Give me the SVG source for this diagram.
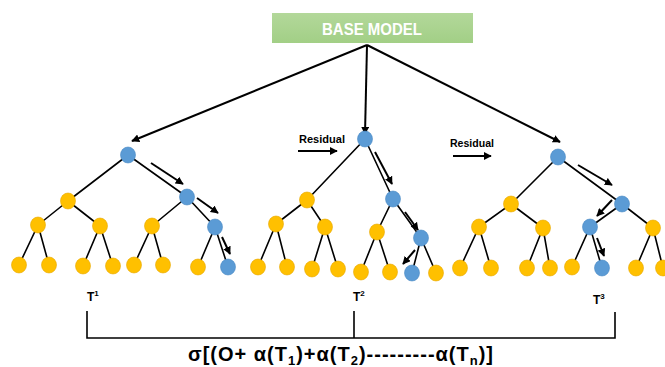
<svg xmlns="http://www.w3.org/2000/svg" width="665" height="367" viewBox="0 0 665 367">
<defs>
<marker id="ah" viewBox="0 0 10 10" refX="9" refY="5" markerWidth="4" markerHeight="4" orient="auto" markerUnits="strokeWidth">
<path d="M0,0 L10,5 L0,10 z" fill="#000"/>
</marker>
<linearGradient id="g" x1="0" y1="0" x2="0" y2="1">
<stop offset="0" stop-color="#b3d89a"/>
<stop offset="1" stop-color="#a2cf86"/>
</linearGradient>
</defs>
<style>
.e{stroke:#000;stroke-width:1.6;fill:none}
.a{stroke:#000;stroke-width:2;fill:none;marker-end:url(#ah)}
.y{fill:#FFC000;stroke:#e8a800;stroke-width:0.6}
.b{fill:#5B9BD5;stroke:#4a89c4;stroke-width:0.6}
.t{font-family:"Liberation Sans",Arial,sans-serif;font-weight:bold;fill:#000}
</style>
<rect width="665" height="367" fill="#fff"/>
<g id="base">
<rect x="272" y="13" width="201" height="30" fill="url(#g)"/>
<text x="372" y="35" class="t" font-size="17" style="fill:#fff" text-anchor="middle" textLength="100" lengthAdjust="spacingAndGlyphs">BASE MODEL</text>
</g>
<g id="connectors">
<line class="a" x1="367" y1="45" x2="132" y2="141"/>
<line class="a" x1="367" y1="45" x2="365" y2="134"/>
<line class="a" x1="367" y1="45" x2="560" y2="142"/>
<path class="e" d="M128,155L68,201M128,155L187,197M68,201L38,225M68,201L100,226M187,197L152,226M187,197L215,227M38,225L19,265M38,225L49,265M100,226L83,266M100,226L113,266M152,226L134,265M152,226L163,265M215,227L198,267M215,227L228,267"/>
<path class="e" d="M365,139L307,200M365,139L393,199M307,200L276,224M307,200L325,227M393,199L377,232M393,199L421,238M276,224L258,267M276,224L287,267M325,227L312,269M325,227L338,269M377,232L361,272M377,232L390,272M421,238L412,273M421,238L436,273"/>
<path class="e" d="M558,157L511,204M558,157L622,204M511,204L479,227M511,204L543,228M622,204L590,227M622,204L653,228M479,227L460,268M479,227L491,268M543,228L527,268M543,228L550,268M590,227L572,267M590,227L602,268M653,228L636,268M653,228L663,268"/>
<line class="a" x1="151" y1="163" x2="183" y2="184"/>
<line class="a" x1="197" y1="198" x2="218" y2="213"/>
<line class="a" x1="222" y1="237" x2="230" y2="254"/>
<line class="a" x1="375" y1="152" x2="392" y2="184"/>
<line class="a" x1="405" y1="212" x2="418" y2="230"/>
<line class="a" x1="415" y1="250" x2="403" y2="264"/>
<line class="a" x1="578" y1="165" x2="612" y2="185"/>
<line class="a" x1="612" y1="200" x2="597" y2="216"/>
<line class="a" x1="597" y1="238" x2="604" y2="256"/>
<line class="a" x1="298" y1="151" x2="337" y2="151"/>
<line class="a" x1="453" y1="156" x2="491" y2="156"/>
<path class="e" d="M87,311V338H615V312M354,311V338"/>
</g>
<g id="tree1">
<ellipse class="b" cx="128" cy="155" rx="7.5" ry="8"/>
<ellipse class="y" cx="68" cy="201" rx="7.5" ry="8"/>
<ellipse class="b" cx="187" cy="197" rx="7.5" ry="8"/>
<ellipse class="y" cx="38" cy="225" rx="7.5" ry="8"/>
<ellipse class="y" cx="100" cy="226" rx="7.5" ry="8"/>
<ellipse class="y" cx="152" cy="226" rx="7.5" ry="8"/>
<ellipse class="b" cx="215" cy="227" rx="7.5" ry="8"/>
<ellipse class="y" cx="19" cy="265" rx="7.5" ry="8"/>
<ellipse class="y" cx="49" cy="265" rx="7.5" ry="8"/>
<ellipse class="y" cx="83" cy="266" rx="7.5" ry="8"/>
<ellipse class="y" cx="113" cy="266" rx="7.5" ry="8"/>
<ellipse class="y" cx="134" cy="265" rx="7.5" ry="8"/>
<ellipse class="y" cx="163" cy="265" rx="7.5" ry="8"/>
<ellipse class="y" cx="198" cy="267" rx="7.5" ry="8"/>
<ellipse class="b" cx="228" cy="267" rx="7.5" ry="8"/>
</g>
<g id="tree2">
<ellipse class="b" cx="365" cy="139" rx="7.5" ry="8"/>
<ellipse class="y" cx="307" cy="200" rx="7.5" ry="8"/>
<ellipse class="b" cx="393" cy="199" rx="7.5" ry="8"/>
<ellipse class="y" cx="276" cy="224" rx="7.5" ry="8"/>
<ellipse class="y" cx="325" cy="227" rx="7.5" ry="8"/>
<ellipse class="y" cx="377" cy="232" rx="7.5" ry="8"/>
<ellipse class="b" cx="421" cy="238" rx="7.5" ry="8"/>
<ellipse class="y" cx="258" cy="267" rx="7.5" ry="8"/>
<ellipse class="y" cx="287" cy="267" rx="7.5" ry="8"/>
<ellipse class="y" cx="312" cy="269" rx="7.5" ry="8"/>
<ellipse class="y" cx="338" cy="269" rx="7.5" ry="8"/>
<ellipse class="y" cx="361" cy="272" rx="7.5" ry="8"/>
<ellipse class="y" cx="390" cy="272" rx="7.5" ry="8"/>
<ellipse class="b" cx="412" cy="273" rx="7.5" ry="8"/>
<ellipse class="y" cx="436" cy="273" rx="7.5" ry="8"/>
</g>
<g id="tree3">
<ellipse class="b" cx="558" cy="157" rx="7.5" ry="8"/>
<ellipse class="y" cx="511" cy="204" rx="7.5" ry="8"/>
<ellipse class="b" cx="622" cy="204" rx="7.5" ry="8"/>
<ellipse class="y" cx="479" cy="227" rx="7.5" ry="8"/>
<ellipse class="y" cx="543" cy="228" rx="7.5" ry="8"/>
<ellipse class="b" cx="590" cy="227" rx="7.5" ry="8"/>
<ellipse class="y" cx="653" cy="228" rx="7.5" ry="8"/>
<ellipse class="y" cx="460" cy="268" rx="7.5" ry="8"/>
<ellipse class="y" cx="491" cy="268" rx="7.5" ry="8"/>
<ellipse class="y" cx="527" cy="268" rx="7.5" ry="8"/>
<ellipse class="y" cx="550" cy="268" rx="7.5" ry="8"/>
<ellipse class="y" cx="572" cy="267" rx="7.5" ry="8"/>
<ellipse class="b" cx="602" cy="268" rx="7.5" ry="8"/>
<ellipse class="y" cx="636" cy="268" rx="7.5" ry="8"/>
<ellipse class="y" cx="663" cy="268" rx="7.5" ry="8"/>
</g>
<g id="labels">
<text class="t" x="299" y="143" font-size="10.5" textLength="46" lengthAdjust="spacingAndGlyphs">Residual</text>
<text class="t" x="450" y="147" font-size="10.5" textLength="44" lengthAdjust="spacingAndGlyphs">Residual</text>
<text class="t" x="87" y="301" font-size="12">T<tspan font-size="8" dy="-5">1</tspan></text>
<text class="t" x="353" y="301" font-size="12">T<tspan font-size="8" dy="-5">2</tspan></text>
<text class="t" x="593" y="304" font-size="12">T<tspan font-size="8" dy="-5">3</tspan></text>
<text class="t" x="188" y="361" font-size="20" letter-spacing="1">σ[(O+ α(T<tspan font-size="13" dy="4">1</tspan><tspan dy="-4">)+α(T</tspan><tspan font-size="13" dy="4">2</tspan><tspan dy="-4">)---------α(T</tspan><tspan font-size="13" dy="4">n</tspan><tspan dy="-4">)]</tspan></text>
</g>
</svg>
